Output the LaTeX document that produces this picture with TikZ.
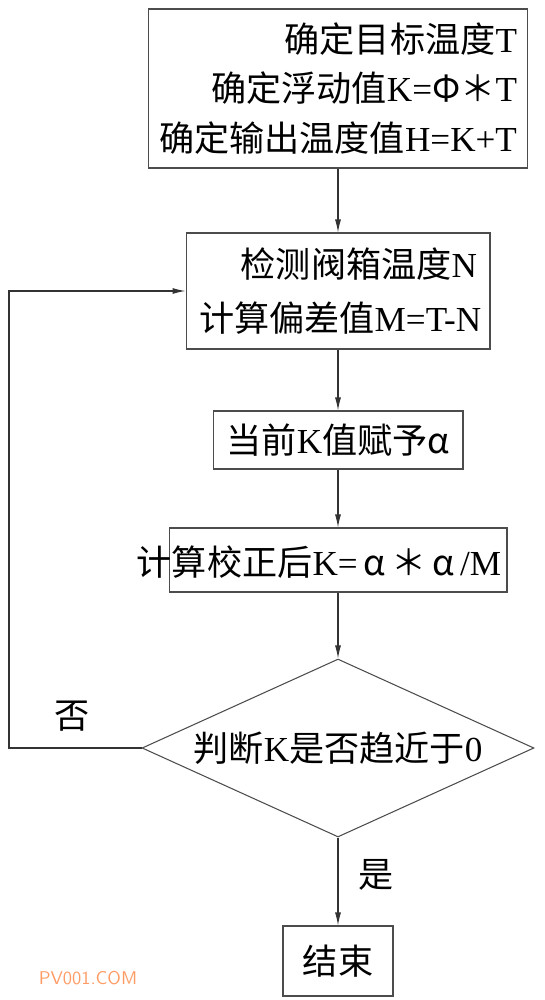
\documentclass[tikz,border=0pt]{standalone}
\usepackage{fontspec}
\setmainfont{Liberation Serif}
\newfontfamily\cjk{Noto Sans CJK SC}
\usetikzlibrary{shapes.geometric, arrows.meta, positioning}

\begin{document}
\begin{tikzpicture}[
    x=0.02cm, y=-0.02cm,
    box/.style={rectangle, draw=black!70, line width=0.6pt, inner sep=0pt, font=\fontsize{20}{28}\selectfont},
    arr/.style={-{Latex[length=2.6mm, width=1.2mm]}, draw=black!80, line width=0.6pt}
]
    \useasboundingbox (0,0) rectangle (544,1000);

    % Steps
    \node[box, minimum width=7.6cm, minimum height=3.18cm, text width=7.16cm, align=right] (setup) at (338,88.5) {{\cjk 确定目标温度}T\\{\cjk 确定浮动值}K={\cjk Φ＊}T\\{\cjk 确定输出温度值}H=K+T};
    \node[box, minimum width=6.08cm, minimum height=2.32cm, text width=5.56cm, align=right, font=\fontsize{20}{30.5}\selectfont] (detect) at (338,291) {{\cjk 检测阀箱温度}N\\\mbox{{\cjk 计算偏差值}M=T-N}};
    \node[box, minimum width=5cm, minimum height=1.16cm] (assign) at (338,440) {{\cjk 当前}K{\cjk 值赋予α}};
    \node[box, minimum width=6.76cm, minimum height=1.28cm] (correct) at (338,560) {};
    \node[font=\fontsize{20}{28}\selectfont, inner sep=0pt] (correcttext) at (319,562) {{\cjk 计算校正后}K=\,{\cjk α\,＊\,α}\,/M};
    \node[box, diamond, aspect=2.2, minimum width=7.84cm, minimum height=3.56cm] (check) at (338,748) {{\cjk 判断}K{\cjk 是否趋近于}0};
    \node[box, minimum width=2.2cm, minimum height=1.4cm] (finish) at (338,961) {\cjk 结束};

    % Branch labels
    \node[font=\fontsize{20}{24}\selectfont\cjk] (no) at (72,716) {否};
    \node[font=\fontsize{20}{24}\selectfont\cjk] (yes) at (376,875) {是};
    \node[font=\sffamily\fontsize{10.5}{12}\selectfont, text=orange!70!red!60] (mark) at (88,978) {PV001.COM};

    % Arrows
    \coordinate (loop) at (9,748);
    \draw[arr] (setup) -- (detect);
    \draw[arr] (detect) -- (assign);
    \draw[arr] (assign) -- (correct);
    \draw[arr] (correct) -- (check);
    \draw[arr] (check) -- (finish);
    \draw[arr] (check.west) -- (loop) |- (detect.west);
\end{tikzpicture}
\end{document}
